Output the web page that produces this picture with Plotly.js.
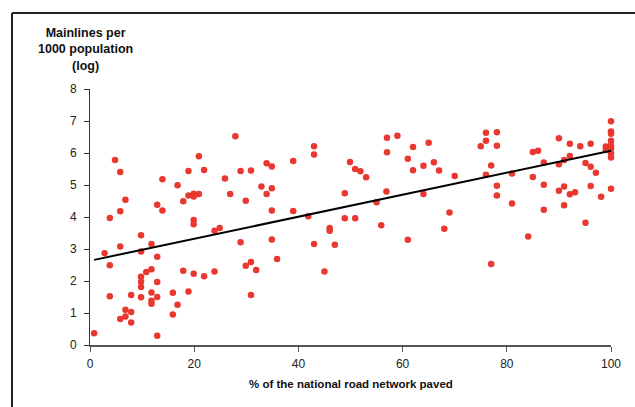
<!DOCTYPE html>
<html>
<head>
<meta charset="utf-8">
<script src="https://cdn.plot.ly/plotly-3.0.1.min.js"></script>
<style>html,body{margin:0;padding:0;background:#fff;}#chart{width:635px;height:407px;}</style>
</head>
<body>
<div id="chart"></div>
<script>
// % of national road network paved
const pavedPct = [
  0.8, 4.8, 5.8, 6.8, 5.8, 3.8, 5.8, 2.8, 3.8, 3.8,
  6.8, 7.9, 6.8, 5.8, 7.9, 7.9, 9.8, 9.8, 11.8, 12.9,
  11.8, 10.8, 9.8, 9.8, 9.8, 9.8, 12.9, 11.8, 11.8, 11.8,
  12.9, 12.9, 12.9, 13.9, 13.9, 16.8, 17.9, 18.9, 18.9, 19.9,
  19.9, 20.9, 20.9, 21.9, 19.9, 19.9, 15.9, 18.9, 16.8, 15.9,
  17.9, 19.9, 21.9, 23.9, 23.9, 24.9, 27.9, 28.9, 30.9, 25.9,
  26.9, 29.9, 32.9, 33.9, 34.9, 34.9, 33.9, 34.9, 39.0, 39.0,
  43.0, 43.0, 41.9, 46.0, 46.0, 48.9, 48.9, 49.9, 28.9, 34.9,
  43.0, 47.0, 35.9, 29.9, 30.9, 31.9, 45.0, 30.9, 50.9, 50.9,
  51.9, 53.0, 55.0, 55.9, 56.9, 57.0, 57.0, 59.0, 61.0, 61.0,
  62.0, 62.0, 64.0, 64.0, 65.0, 66.0, 67.0, 68.0, 69.0, 70.0,
  75.0, 76.0, 76.0, 78.1, 78.1, 77.0, 76.0, 78.1, 78.1, 77.0,
  81.0, 81.0, 84.1, 85.0, 86.0, 87.1, 85.0, 87.1, 87.1, 90.0,
  90.0, 91.0, 92.1, 92.1, 90.0, 91.0, 92.1, 93.1, 91.0, 94.1,
  96.1, 95.1, 96.1, 97.1, 96.1, 98.1, 95.1, 99.0, 99.0, 100,
  100, 100, 100, 100, 100, 100, 100, 100
];
// Mainlines per 1000 population (log)
const mainlines = [
  0.37, 5.78, 5.41, 4.54, 4.18, 3.97, 3.08, 2.87, 2.49, 1.52,
  1.10, 1.03, 0.89, 0.81, 0.70, 1.56, 3.43, 2.92, 3.16, 2.76,
  2.37, 2.28, 2.13, 1.98, 1.81, 1.49, 1.97, 1.64, 1.38, 1.29,
  1.50, 0.29, 4.38, 4.20, 5.18, 4.99, 4.49, 5.44, 4.67, 4.73,
  4.64, 4.72, 5.90, 5.47, 3.91, 3.77, 1.63, 1.67, 1.26, 0.95,
  2.32, 2.23, 2.15, 2.30, 3.57, 3.66, 6.52, 5.44, 5.45, 5.20,
  4.72, 4.51, 4.95, 5.68, 5.58, 4.90, 4.72, 4.20, 5.75, 4.19,
  6.21, 5.95, 4.02, 3.66, 3.57, 4.74, 3.96, 5.72, 3.21, 3.30,
  3.16, 3.13, 2.69, 2.48, 2.59, 2.34, 2.30, 1.56, 3.96, 5.50,
  5.43, 5.24, 4.46, 3.74, 4.80, 6.02, 6.48, 6.54, 5.82, 3.29,
  6.19, 5.46, 5.60, 4.72, 6.32, 5.71, 5.45, 3.63, 4.14, 5.28,
  6.21, 6.63, 6.38, 6.65, 6.23, 5.61, 5.32, 4.98, 4.67, 2.53,
  5.36, 4.42, 3.39, 6.03, 6.07, 5.70, 5.25, 5.01, 4.23, 6.46,
  5.65, 5.78, 5.91, 6.29, 4.82, 4.95, 4.71, 4.77, 4.37, 6.21,
  6.29, 5.69, 5.57, 5.38, 4.97, 4.63, 3.82, 6.20, 6.09, 6.99,
  6.67, 6.60, 6.38, 6.24, 6.14, 5.99, 5.86, 4.88
];
// fitted trend line end points
const trendX = [0.8, 100];
const trendY = [2.66, 6.07];

const xTicks = [0, 20, 40, 60, 80, 100];
const yTicks = [0, 1, 2, 3, 4, 5, 6, 7, 8];

const traces = [
  {
    x: pavedPct, y: mainlines, type: 'scatter', mode: 'markers',
    marker: {color: 'rgb(232,56,48)', size: 6.5, line: {width: 0}},
    hoverinfo: 'x+y', cliponaxis: false
  },
  {
    x: trendX, y: trendY, type: 'scatter', mode: 'lines',
    line: {color: '#000', width: 2}, hoverinfo: 'skip'
  }
];

const axFont = {family: 'Liberation Sans, Arial, sans-serif', size: 12, color: '#222'};

const layout = {
  width: 635, height: 407,
  margin: {l: 90, r: 24, t: 89, b: 62},
  paper_bgcolor: '#fff', plot_bgcolor: '#fff',
  showlegend: false,
  font: axFont,
  xaxis: {
    range: [0, 100], tickvals: xTicks, ticktext: xTicks.map(String),
    showgrid: false, zeroline: false, showline: true, linecolor: '#555', linewidth: 1.5,
    ticks: 'outside', ticklen: 5, tickcolor: '#555', tickwidth: 1, tickfont: axFont,
    ticklabelstandoff: 2, fixedrange: true
  },
  yaxis: {
    range: [0, 8], tickvals: yTicks, ticktext: yTicks.map(String),
    showgrid: false, zeroline: false, showline: true, linecolor: '#333', linewidth: 1,
    ticks: 'outside', ticklen: 5, tickcolor: '#333', tickwidth: 1, tickfont: axFont,
    ticklabelstandoff: 5, fixedrange: true
  },
  annotations: [
    {
      text: '<b>Mainlines per<br>1000 population<br>(log)</b>',
      xref: 'paper', yref: 'paper', x: -0.0077, y: 1.156,
      xanchor: 'center', yanchor: 'middle', showarrow: false,
      font: {family: 'Liberation Sans, Arial, sans-serif', size: 12.5, color: '#111'}
    },
    {
      text: '<b>% of the national road network paved</b>',
      xref: 'paper', yref: 'paper', x: 0.5, y: -0.152,
      xanchor: 'center', yanchor: 'middle', showarrow: false,
      font: {family: 'Liberation Sans, Arial, sans-serif', size: 11.5, color: '#111'}
    },
    {
      text: 'policy',
      xref: 'paper', yref: 'paper', x: -0.0365, y: 1.346,
      xanchor: 'left', yanchor: 'bottom', showarrow: false,
      font: {family: 'Liberation Sans, Arial, sans-serif', size: 24, color: '#29aee0'}
    }
  ],
  shapes: [
    {type: 'line', xref: 'paper', yref: 'paper', x0: -0.1497, x1: 1.06, y0: 1.297, y1: 1.297,
     line: {color: '#222', width: 2}},
    {type: 'line', xref: 'paper', yref: 'paper', x0: -0.1497, x1: -0.1497, y0: 1.297, y1: -0.26,
     line: {color: '#222', width: 2}}
  ]
};

Plotly.newPlot('chart', traces, layout, {displayModeBar: false, staticPlot: true});
</script>
</body>
</html>
